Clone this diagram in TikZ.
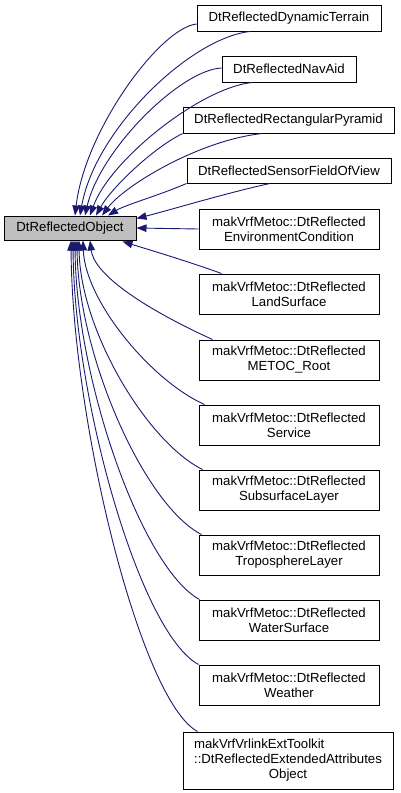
\documentclass[tikz,border=0pt]{standalone}
\usepackage{fontspec}
\setmainfont{Liberation Sans}
\usetikzlibrary{arrows.meta,calc}
\definecolor{edgeblue}{HTML}{191970}
\definecolor{mainfill}{HTML}{BFBFBF}
\begin{document}
\begin{tikzpicture}[x=1pt,y=-1pt,
  box/.style={draw=black,line width=1pt,fill=white,inner sep=0pt,align=center,
    font=\fontsize{13.2}{15}\selectfont},
  edge/.style={draw=edgeblue,line width=0.9pt,-{Triangle[length=10pt,width=7.5pt]}}]
\useasboundingbox (0,0) rectangle (400,793);
% main
\node[box,fill=mainfill,minimum width=132pt,minimum height=24pt] (main) at (70,228) {DtReflectedObject};
% top nodes
\node[box,minimum width=184pt,minimum height=26pt] (dt) at (289,18) {DtReflectedDynamicTerrain};
\node[box,minimum width=134pt,minimum height=26pt] (nav) at (289,69) {DtReflectedNavAid};
\node[box,minimum width=211pt,minimum height=26pt] (rp) at (288.5,120) {DtReflectedRectangularPyramid};
\node[box,minimum width=204pt,minimum height=25pt] (sf) at (289,170.5) {DtReflectedSensorFieldOfView};
% metoc nodes
\node[box,minimum width=180pt,minimum height=40pt] (env) at (289,229) {makVrfMetoc::DtReflected\\EnvironmentCondition};
\node[box,minimum width=180pt,minimum height=40pt] (land) at (289,294) {makVrfMetoc::DtReflected\\LandSurface};
\node[box,minimum width=180pt,minimum height=40pt] (metoc) at (289,360) {makVrfMetoc::DtReflected\\METOC\_Root};
\node[box,minimum width=180pt,minimum height=40pt] (serv) at (289,425) {makVrfMetoc::DtReflected\\Service};
\node[box,minimum width=180pt,minimum height=40pt] (sub) at (289,490) {makVrfMetoc::DtReflected\\SubsurfaceLayer};
\node[box,minimum width=180pt,minimum height=40pt] (trop) at (289,555) {makVrfMetoc::DtReflected\\TroposphereLayer};
\node[box,minimum width=180pt,minimum height=40pt] (water) at (289,620) {makVrfMetoc::DtReflected\\WaterSurface};
\node[box,minimum width=180pt,minimum height=40pt] (weath) at (289,685) {makVrfMetoc::DtReflected\\Weather};
\node[box,minimum width=210pt,minimum height=57pt] (vr) at (288,760.5)
  {\begin{tabular}{@{}l@{}}makVrfVrlinkExtToolkit\\::DtReflectedExtendedAttributes\\\multicolumn{1}{@{}c@{}}{Object}\end{tabular}};
% top edges
\draw[edge] ($(dt.west)+(0,6)$) .. controls (160,28) and (85,130) .. ($(main.north)+(5,0)$);
\draw[edge] ($(dt.south)+(-39,0)$) .. controls (190,38) and (95,130) .. ($(main.north)+(10,0)$);
\draw[edge] ($(nav.west)+(0,-1)$) .. controls (180,70) and (100,150) .. ($(main.north)+(15,0)$);
\draw[edge] ($(nav.south)+(-37,0)$) .. controls (200,88) and (110,160) .. ($(main.north)+(20,0)$);
\draw[edge] (rp.south west) .. controls (150,150) and (110,190) .. ($(main.north)+(26,0)$);
\draw[edge] ($(rp.south)+(-26,0)$) .. controls (200,140) and (125,185) .. ($(main.north)+(32,0)$);
\draw[edge] (sf.south west) .. controls (160,195) and (125,205) .. ($(main.north)+(38,0)$);
\draw[edge] ($(sf.south)+(-19,0)$) .. controls (230,192) and (170,210) .. ($(main.north east)+(0,3)$);
% middle edges
\draw[edge] (env.west) -- (main.east);
\draw[edge] ($(land.north west)+(23,0)$) .. controls (190,262) and (150,250) .. ($(main.south east)+(-14,1)$);
% bottom edges
\draw[edge] ($(metoc.north west)+(14,0)$) .. controls (165,318) and (95,280) .. ($(main.south)+(20,0)$);
\draw[edge] ($(serv.north west)+(6,0)$) .. controls (150,380) and (85,300) .. ($(main.south)+(13,0)$);
\draw[edge] ($(sub.north west)+(4,0)$) .. controls (147,442) and (80,330) .. ($(main.south)+(9,0)$);
\draw[edge] ($(trop.north west)+(3,0)$) .. controls (144,505) and (78,355) .. ($(main.south)+(7,0)$);
\draw[edge] ($(water.north west)+(1,0)$) .. controls (142,568) and (76,380) .. ($(main.south)+(5,0)$);
\draw[edge] (weath.north west) .. controls (140,633) and (74,400) .. ($(main.south)+(3,0)$);
\draw[edge] ($(vr.north west)+(15,0)$) .. controls (140,700) and (72,420) .. ($(main.south)+(1,0)$);
\end{tikzpicture}
\end{document}
